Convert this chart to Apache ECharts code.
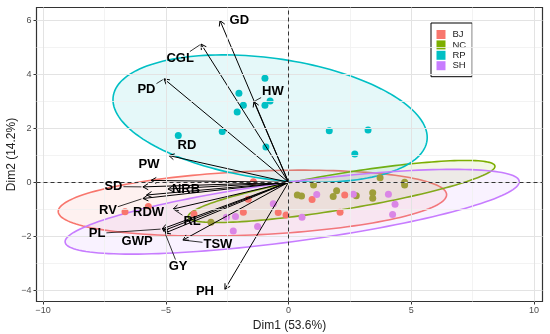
<!DOCTYPE html>
<html><head><meta charset="utf-8">
<script src="https://cdn.jsdelivr.net/npm/echarts@6/dist/echarts.min.js"></script>
<style>html,body{margin:0;padding:0;background:#fff}#c{width:550px;height:334px}</style>
</head><body><div id="c"></div><script>
// ---------- data ----------
const groups = ['BJ', 'NC', 'RP', 'SH'];
const groupColors = ['#F8766D', '#7CAE00', '#00BFC4', '#C77CFF'];
const pointColors = ['#F8766D', '#9E9E3A', '#00BFC4', '#DA86E6'];

const bjPoints = [[-6.66,-1.09],[-5.71,-0.90],[-3.85,-1.17],[-1.84,-1.11],[-1.64,-0.63],[-1.43,0.02],
  [-0.42,-1.12],[-0.10,-1.21],[0.96,-0.64],[2.29,-0.47],[2.10,-1.11]];
const ncPoints = [[0.36,-0.47],[0.53,-0.51],[1.02,-0.10],[1.96,-0.31],[1.82,-0.53],[2.76,-0.50],
  [3.43,-0.39],[3.43,-0.59],[3.73,0.17],[4.73,0.00],[4.73,-0.10],[-3.16,-1.48]];
const rpPoints = [[-0.96,3.85],[-2.02,3.30],[-1.84,2.85],[-2.09,2.60],[-0.96,2.85],[-0.75,3.01],
  [-2.70,1.88],[-4.49,1.73],[-0.92,1.31],[1.66,1.91],[3.24,1.94],[2.70,1.05]];
const shPoints = [[1.15,-0.45],[2.64,-0.44],[4.07,-0.44],[4.34,-0.81],[4.24,-1.19],[0.55,-1.29],
  [-0.62,-0.79],[-2.16,-1.27],[-2.53,-1.29],[-2.25,-1.80],[-1.26,-1.64]];

// ellipse: [centerX, centerY, halfWidthX, halfHeightY, yOffsetAtRightmost]
const ellipseBJ = [-1.47, -0.77, 7.91, 1.22, 0.31];
const ellipseNC = [2.16, -0.34, 6.25, 1.15, 0.93];
const ellipseRP = [-0.75, 2.36, 6.40, 2.36, -0.70];
const ellipseSH = [0.15, -1.09, 9.25, 1.57, 1.11];

const varNames = ['GD','CGL','PD','HW','RD','PW','SD','NRB','RV','RDW','RL','PL','GWP','GY','TSW','PH'];
const varX = [-2.79,-3.56,-5.07,-1.41,-4.87,-5.60,-5.93,-4.91,-5.93,-5.78,-4.70,-5.15,-5.11,-5.03,-4.30,-2.59];
const varY = [5.99, 5.12, 3.83, 2.99, 0.99, 0.07,-0.17,-0.25,-0.60,-0.47,-0.99,-1.73,-1.80,-1.88,-2.14,-3.96];

const xTicks = [-10, -5, 0, 5, 10];
const yTicks = [-4, -2, 0, 2, 4, 6];
const xMinor = [-7.5, -2.5, 2.5, 7.5];
const yMinor = [-3, -1, 1, 3, 5];

// ---------- layout (pixel offsets of variable labels from arrow tips, leader flag) ----------
const labelLayout = [[19.3,-0.5,0],[-21,14,1],[-17.6,11,1],[19,-10.5,1],[18,-10.5,0],[-2,-15.5,0],
  [-29.5,-0.3,1],[18,0.5,1],[-35,11.5,1],[2,17.5,0],[19,12.5,1],[-65,4.5,1],[-26,11,0],[13,33,1],[35,4,1],[-20,2,0]];

const FONT = '"Liberation Sans", Arial, Helvetica, sans-serif';
const labelFont = 'bold 13px ' + FONT;
const ctx = document.createElement('canvas').getContext('2d');
ctx.font = labelFont;

function hexA(h, a) {
  const r = parseInt(h.slice(1,3),16), g = parseInt(h.slice(3,5),16), b = parseInt(h.slice(5,7),16);
  return 'rgba(' + r + ',' + g + ',' + b + ',' + a + ')';
}

const chart = echarts.init(document.getElementById('c'), null, {renderer: 'canvas'});
const pointSets = [bjPoints, ncPoints, rpPoints, shPoints];
const ellipses = [ellipseBJ, ellipseNC, ellipseRP, ellipseSH];

const gridLine = (vals, axis, color, width) => vals.map(v => ({[axis]: v, lineStyle: {color: color, width: width, type: 'solid'}}));

const series = [];
series.push({
  type: 'scatter', name: 'grid', data: [], z: 0, silent: true,
  markLine: {
    silent: true, symbol: ['none','none'], label: {show: false}, animation: false,
    data: [].concat(
      gridLine(xMinor, 'xAxis', '#F0F0F0', 0.8), gridLine(yMinor, 'yAxis', '#F0F0F0', 0.8),
      gridLine(xTicks, 'xAxis', '#E3E3E3', 1), gridLine(yTicks, 'yAxis', '#E3E3E3', 1))
  }
});
series.push({
  type: 'custom', name: 'ellipses', z: 1, silent: true,
  data: ellipses.map((e, i) => e.concat([i])),
  renderItem: (params, api) => {
    const cx = api.value(0), cy = api.value(1), xh = api.value(2), yh = api.value(3), dy = api.value(4), gi = api.value(5);
    const l22 = Math.sqrt(Math.max(yh*yh - dy*dy, 0));
    const pts = [];
    for (let k = 0; k < 160; k++) {
      const t = 2 * Math.PI * k / 160;
      pts.push(api.coord([cx + xh*Math.cos(t), cy + dy*Math.cos(t) + l22*Math.sin(t)]));
    }
    return {type: 'polygon', shape: {points: pts},
      style: {fill: hexA(groupColors[gi], 0.1), stroke: groupColors[gi], lineWidth: 1.6}};
  }
});
series.push({
  type: 'scatter', name: 'zero', data: [], z: 2, silent: true,
  markLine: {
    silent: true, symbol: ['none','none'], label: {show: false}, animation: false,
    lineStyle: {color: '#333', width: 1, type: [4, 3]},
    data: [{xAxis: 0}, {yAxis: 0}]
  }
});
groups.forEach((g, i) => {
  series.push({type: 'scatter', name: g, data: pointSets[i], symbolSize: 7, z: 3,
    itemStyle: {color: pointColors[i], opacity: 1}});
});
series.push({
  type: 'custom', name: 'arrows', z: 4, silent: true,
  data: varX.map((x, i) => [x, varY[i], i]),
  renderItem: (params, api) => {
    const o = api.coord([0, 0]);
    const t = api.coord([api.value(0), api.value(1)]);
    const ang = Math.atan2(t[1]-o[1], t[0]-o[0]);
    const L = 6, a = Math.PI/6;
    const p1 = [t[0] - L*Math.cos(ang - a), t[1] - L*Math.sin(ang - a)];
    const p2 = [t[0] - L*Math.cos(ang + a), t[1] - L*Math.sin(ang + a)];
    return {type: 'group', children: [
      {type: 'line', shape: {x1: o[0], y1: o[1], x2: t[0], y2: t[1]}, style: {stroke: '#000', lineWidth: 1}},
      {type: 'polyline', shape: {points: [p1, t, p2]}, style: {stroke: '#000', fill: null, lineWidth: 1}}
    ]};
  }
});
series.push({
  type: 'custom', name: 'varlabels', z: 5, silent: true,
  data: varX.map((x, i) => [x, varY[i], i]),
  renderItem: (params, api) => {
    const i = api.value(2);
    const t = api.coord([api.value(0), api.value(1)]);
    const lay = labelLayout[i];
    const c = [t[0] + lay[0], t[1] + lay[1]];
    const children = [];
    if (lay[2]) {
      const hw = ctx.measureText(varNames[i]).width/2 + 1, hh = 6.5;
      const dx = t[0]-c[0], dy = t[1]-c[1];
      const s = Math.min(dx !== 0 ? hw/Math.abs(dx) : 1e9, dy !== 0 ? hh/Math.abs(dy) : 1e9);
      if (s < 1) {
        const e = [c[0] + dx*s, c[1] + dy*s];
        const len = Math.hypot(dx, dy);
        const st = [t[0] - dx/len*1.5, t[1] - dy/len*1.5];
        if (Math.hypot(st[0]-e[0], st[1]-e[1]) > 2) {
          children.push({type: 'line', shape: {x1: e[0], y1: e[1], x2: st[0], y2: st[1]}, style: {stroke: '#000', lineWidth: 0.8}});
        }
      }
    }
    children.push({type: 'text', x: c[0], y: c[1],
      style: {text: varNames[i], font: labelFont, fill: '#000', align: 'center', verticalAlign: 'middle'}});
    return {type: 'group', children: children};
  }
});

const fmt = v => String(v).replace('-', '\u2212');
chart.setOption({
  animation: false,
  backgroundColor: '#fff',
  grid: {left: 36.5, right: 7.5, top: 7.5, bottom: 32.5, containLabel: false, outerBoundsMode: 'none',
    show: true, borderColor: '#333', borderWidth: 1.2, backgroundColor: 'transparent'},
  xAxis: {
    type: 'value', min: -10.265, max: 10.346,
    splitLine: {show: false},
    axisLine: {show: false, onZero: false},
    axisTick: {show: true, length: 3, lineStyle: {color: '#333', width: 1}, customValues: xTicks},
    axisLabel: {customValues: xTicks, color: '#4D4D4D', fontSize: 9, fontFamily: FONT, margin: 5, formatter: fmt},
    name: 'Dim1 (53.6%)', nameLocation: 'middle', nameGap: 18, nameMoveOverlap: false,
    nameTextStyle: {fontSize: 12, color: '#222', fontFamily: FONT}
  },
  yAxis: {
    type: 'value', min: -4.415, max: 6.474,
    splitLine: {show: false},
    axisLine: {show: false, onZero: false},
    axisTick: {show: true, length: 3, lineStyle: {color: '#333', width: 1}, customValues: yTicks},
    axisLabel: {customValues: yTicks, color: '#4D4D4D', fontSize: 9, fontFamily: FONT, margin: 5, formatter: fmt},
    name: 'Dim2 (14.2%)', nameLocation: 'middle', nameGap: 19, nameMoveOverlap: false,
    nameTextStyle: {fontSize: 12, color: '#222', fontFamily: FONT}
  },
  legend: {
    orient: 'vertical', left: 431, top: 23, padding: [6.5, 6, 6, 5.5],
    borderColor: '#000', borderWidth: 1, backgroundColor: '#fff',
    itemWidth: 9, itemHeight: 9, itemGap: 0.4, selectedMode: false,
    textStyle: {fontSize: 9.5, color: '#1a1a1a', fontFamily: FONT, lineHeight: 9, padding: [0, 0, 0, 2]},
    data: groups.map((g, i) => ({name: g, icon: 'rect', itemStyle: {color: groupColors[i], borderWidth: 0}}))
  },
  series: series
});
</script></body></html>
